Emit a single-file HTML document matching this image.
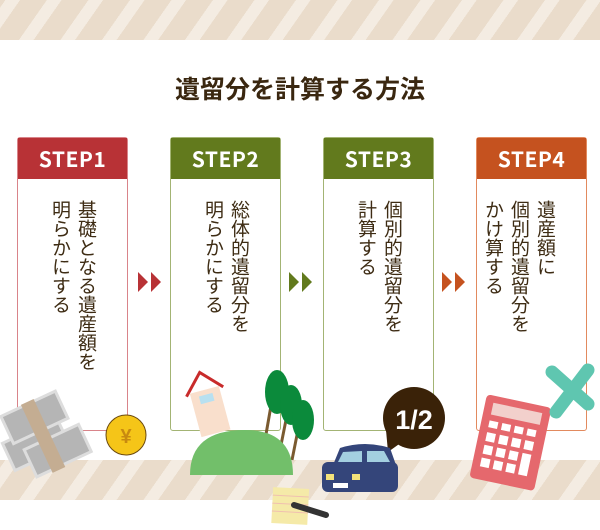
<!DOCTYPE html>
<html><head><meta charset="utf-8"><style>
*{margin:0;padding:0;box-sizing:border-box}
body{width:600px;height:530px;background:#fff;position:relative;overflow:hidden;font-family:"Liberation Sans","Noto Sans CJK JP",sans-serif}
.stripe{position:absolute;left:0;width:600px;height:40px;background:repeating-linear-gradient(-55deg,#eadccb 0 22px,#f4ece2 22px 34px)}
h1{position:absolute;top:70px;left:0;width:600px;text-align:center;font-size:25px;font-weight:bold;color:#3a2710;font-family:"Noto Sans CJK JP",sans-serif}
.card{position:absolute;top:137px;width:111px;height:294px;border:1.5px solid;border-radius:3px;background:#fff}
.hd{height:41px;color:#fff;font-size:21px;font-weight:bold;text-align:center;line-height:43px;letter-spacing:0.5px;font-family:"Noto Sans CJK JP",sans-serif}
.tx{position:absolute;top:62px;right:27px;writing-mode:vertical-rl;font-size:19px;line-height:26px;color:#3e2c14;font-family:"Noto Sans CJK JP",sans-serif}
.arr{position:absolute;top:272px;width:0;height:0;border-top:10px solid transparent;border-bottom:10px solid transparent;border-left:10px solid}
</style></head><body>
<div class="stripe" style="top:0"></div>
<div class="stripe" style="top:460px"></div>
<h1>遺留分を計算する方法</h1>

<div class="card" style="left:17px;border-color:#d9848a"><div class="hd" style="background:#b83236">STEP1</div><div class="tx">基礎となる遺産額を<br>明らかにする</div></div>
<div class="card" style="left:170px;border-color:#a3b474"><div class="hd" style="background:#627a1d">STEP2</div><div class="tx">総体的遺留分を<br>明らかにする</div></div>
<div class="card" style="left:323px;border-color:#a3b474"><div class="hd" style="background:#627a1d">STEP3</div><div class="tx">個別的遺留分を<br>計算する</div></div>
<div class="card" style="left:476px;border-color:#e28a5e"><div class="hd" style="background:#c5521f">STEP4</div><div class="tx">遺産額に<br>個別的遺留分を<br>かけ算する</div></div>

<div class="arr" style="left:138px;border-left-color:#b83236"></div><div class="arr" style="left:151px;border-left-color:#b83236"></div>
<div class="arr" style="left:289px;border-left-color:#627a1d"></div><div class="arr" style="left:302px;border-left-color:#627a1d"></div>
<div class="arr" style="left:442px;border-left-color:#c5521f"></div><div class="arr" style="left:455px;border-left-color:#c5521f"></div>

<svg style="position:absolute;left:0;top:0" width="600" height="530">
<g transform="rotate(-25 45 440)">
<rect x="5" y="425" width="60" height="30" fill="#b5b5b5" stroke="#ddd" stroke-width="3"/>
<rect x="22" y="440" width="60" height="30" fill="#b5b5b5" stroke="#ddd" stroke-width="3"/>
<rect x="15" y="400" width="60" height="30" fill="#b5b5b5" stroke="#ddd" stroke-width="3"/>
<rect x="38" y="398" width="14" height="75" fill="#c4ad92"/>
</g>
<circle cx="126" cy="435" r="20" fill="#f5c518" stroke="#6b4a10" stroke-width="1"/>
<text x="126" y="443" font-size="20" fill="#c88a10" text-anchor="middle" font-weight="bold">¥</text>
<g transform="rotate(-15 205 400)"><rect x="192" y="390" width="30" height="45" fill="#f9dfcc"/><path d="M188 392 L207 372 L226 392" fill="none" stroke="#c82b2b" stroke-width="3"/><rect x="200" y="395" width="14" height="8" fill="#b8e0f0"/></g>
<line x1="272" y1="400" x2="265" y2="440" stroke="#7a5a30" stroke-width="3"/>
<line x1="288" y1="410" x2="280" y2="450" stroke="#7a5a30" stroke-width="3"/>
<line x1="300" y1="420" x2="292" y2="460" stroke="#7a5a30" stroke-width="3"/>
<ellipse cx="277" cy="392" rx="12" ry="22" fill="#0b8a3b"/>
<ellipse cx="291" cy="405" rx="11" ry="20" fill="#0b8a3b"/>
<ellipse cx="303" cy="420" rx="11" ry="20" fill="#0b8a3b"/>
<path d="M190 475 Q190 430 245 430 Q293 430 293 475 Z" fill="#72bf6a"/>
<circle cx="414" cy="418" r="31" fill="#3a2208"/><path d="M386 430 L388 452 L402 442Z" fill="#3a2208"/>
<text x="414" y="429" font-size="27" font-weight="bold" fill="#fff" text-anchor="middle">1/2</text>
<rect x="322" y="462" width="76" height="30" rx="6" fill="#34457a"/>
<path d="M333 465 L340 448 Q365 440 390 448 L396 465Z" fill="#34457a"/>
<path d="M338 462 L343 452 L362 451 L362 462Z" fill="#a3cfe0"/><path d="M367 451 L384 451 L390 462 L367 462Z" fill="#a3cfe0"/>
<rect x="326" y="474" width="8" height="6" fill="#f3e27a"/><rect x="352" y="474" width="8" height="6" fill="#f3e27a"/>
<rect x="333" y="483" width="15" height="5" fill="#fff"/>
<g transform="rotate(3 290 510)"><rect x="272" y="488" width="36" height="36" fill="#f5eaa8"/><line x1="272" y1="496" x2="308" y2="496" stroke="#f0c0b0"/><line x1="272" y1="504" x2="308" y2="504" stroke="#f0c0b0"/><line x1="272" y1="512" x2="308" y2="512" stroke="#f0c0b0"/></g>
<line x1="294" y1="505" x2="326" y2="515" stroke="#333" stroke-width="6" stroke-linecap="round"/>
<g transform="rotate(12 510 440)"><rect x="478" y="400" width="66" height="85" rx="4" fill="#e5686d"/><rect x="486" y="407" width="50" height="12" fill="#f2d0cc"/>
<g fill="#fff"><rect x="486" y="425" width="9" height="7"/><rect x="499" y="425" width="9" height="7"/><rect x="512" y="425" width="9" height="7"/><rect x="525" y="425" width="9" height="7"/>
<rect x="486" y="437" width="9" height="9"/><rect x="499" y="437" width="9" height="9"/><rect x="512" y="437" width="9" height="9"/><rect x="525" y="437" width="9" height="9"/>
<rect x="486" y="450" width="9" height="9"/><rect x="499" y="450" width="9" height="9"/><rect x="512" y="450" width="9" height="9"/><rect x="525" y="450" width="9" height="22"/>
<rect x="486" y="463" width="9" height="9"/><rect x="499" y="463" width="9" height="9"/><rect x="512" y="463" width="9" height="9"/></g></g>
<g stroke="#5fc6b0" stroke-width="13" stroke-linecap="round"><line x1="552" y1="372" x2="588" y2="404"/><line x1="588" y1="370" x2="556" y2="412"/></g>
</svg>
</body></html>
